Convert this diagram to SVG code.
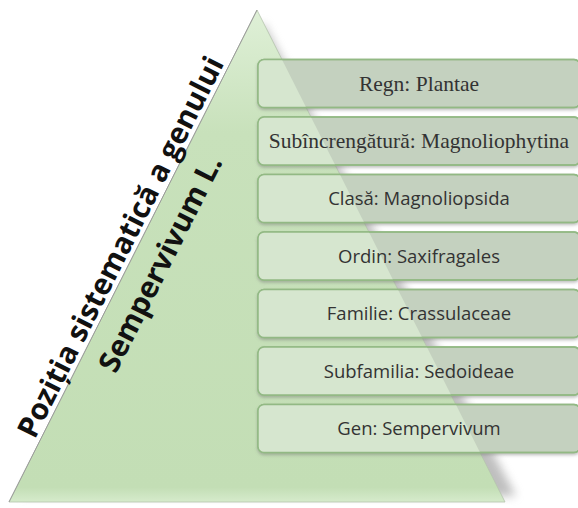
<svg xmlns="http://www.w3.org/2000/svg" width="578" height="508" viewBox="0 0 578 508">
  <defs>
    <style>
      .box { fill: #c4d1bf; stroke: #92b984; stroke-width: 1.5; }
      .boxin { fill: #d6e6cf; stroke: none; }
      .boxedge { fill: none; stroke: #92b984; stroke-width: 1.5; }
      .serif { font-family: "Liberation Serif", "Times New Roman", serif; font-size: 21.5px; fill: #333; text-anchor: middle; }
      .sans { font-family: "Open Sans", "Liberation Sans", sans-serif; font-size: 18.5px; fill: #333; text-anchor: middle; }
      .title { font-family: "Open Sans", "Liberation Sans", sans-serif; font-weight: bold; font-size: 29.5px; fill: #111; text-anchor: middle; }
    </style>
    <linearGradient id="triGrad" x1="0" y1="10" x2="0" y2="502" gradientUnits="userSpaceOnUse">
      <stop offset="0" stop-color="#dff0d7"/>
      <stop offset="0.25" stop-color="#c8e1bb"/>
      <stop offset="0.97" stop-color="#c3deb5"/>
      <stop offset="1" stop-color="#d6ebcc"/>
    </linearGradient>
    <filter id="triShadow" x="-20%" y="-20%" width="140%" height="140%">
      <feGaussianBlur stdDeviation="5"/>
    </filter>
    <filter id="boxShadow" x="-5%" y="-20%" width="110%" height="150%">
      <feDropShadow dx="0" dy="2" stdDeviation="1.5" flood-color="#777" flood-opacity="0.45"/>
    </filter>
    <clipPath id="triClip">
      <polygon points="257,10 9,502 505,502"/>
    </clipPath>
  </defs>

  <rect width="578" height="508" fill="#ffffff"/>

  <g id="pyramid">
    <polygon points="263,22 22,496 516,496" fill="#8a8a8a" opacity="0.55" filter="url(#triShadow)"/>
    <polygon points="257,10 9,502 505,502" fill="url(#triGrad)" stroke="#b5c4ad" stroke-width="0.8"/>
    <line x1="257" y1="10" x2="9" y2="502" stroke="#9a9a9a" stroke-width="1"/>
  </g>

  <g id="title" transform="translate(257,10) rotate(-63.25)">
    <text class="title" x="-273" y="-5" textLength="422" lengthAdjust="spacingAndGlyphs">Poziția sistematică a genului</text>
    <text class="title" x="-270" y="38" textLength="238" lengthAdjust="spacingAndGlyphs">Sempervivum L.</text>
  </g>

  <g id="connectors"/>

  <g id="node-regn">
    <rect class="box" x="258" y="59.5" width="322" height="48" rx="6" filter="url(#boxShadow)"/>
    <rect class="boxin" x="258" y="59.5" width="322" height="48" rx="6" clip-path="url(#triClip)"/>
    <rect class="boxedge" x="258" y="59.5" width="322" height="48" rx="6"/>
    <text class="serif" x="419" y="90.5">Regn: Plantae</text>
  </g>
  <g id="node-subincrengatura">
    <rect class="box" x="258" y="117" width="322" height="48" rx="6" filter="url(#boxShadow)"/>
    <rect class="boxin" x="258" y="117" width="322" height="48" rx="6" clip-path="url(#triClip)"/>
    <rect class="boxedge" x="258" y="117" width="322" height="48" rx="6"/>
    <text class="serif" x="419" y="148">Subîncrengătură: Magnoliophytina</text>
  </g>
  <g id="node-clasa">
    <rect class="box" x="258" y="174.5" width="322" height="48" rx="6" filter="url(#boxShadow)"/>
    <rect class="boxin" x="258" y="174.5" width="322" height="48" rx="6" clip-path="url(#triClip)"/>
    <rect class="boxedge" x="258" y="174.5" width="322" height="48" rx="6"/>
    <text class="sans" x="419" y="205">Clasă: Magnoliopsida</text>
  </g>
  <g id="node-ordin">
    <rect class="box" x="258" y="232" width="322" height="48" rx="6" filter="url(#boxShadow)"/>
    <rect class="boxin" x="258" y="232" width="322" height="48" rx="6" clip-path="url(#triClip)"/>
    <rect class="boxedge" x="258" y="232" width="322" height="48" rx="6"/>
    <text class="sans" x="419" y="262.5">Ordin: Saxifragales</text>
  </g>
  <g id="node-familie">
    <rect class="box" x="258" y="289.5" width="322" height="48" rx="6" filter="url(#boxShadow)"/>
    <rect class="boxin" x="258" y="289.5" width="322" height="48" rx="6" clip-path="url(#triClip)"/>
    <rect class="boxedge" x="258" y="289.5" width="322" height="48" rx="6"/>
    <text class="sans" x="419" y="320">Familie: Crassulaceae</text>
  </g>
  <g id="node-subfamilia">
    <rect class="box" x="258" y="347" width="322" height="48" rx="6" filter="url(#boxShadow)"/>
    <rect class="boxin" x="258" y="347" width="322" height="48" rx="6" clip-path="url(#triClip)"/>
    <rect class="boxedge" x="258" y="347" width="322" height="48" rx="6"/>
    <text class="sans" x="419" y="377.5">Subfamilia: Sedoideae</text>
  </g>
  <g id="node-gen">
    <rect class="box" x="258" y="404.5" width="322" height="48" rx="6" filter="url(#boxShadow)"/>
    <rect class="boxin" x="258" y="404.5" width="322" height="48" rx="6" clip-path="url(#triClip)"/>
    <rect class="boxedge" x="258" y="404.5" width="322" height="48" rx="6"/>
    <text class="sans" x="419" y="435">Gen: Sempervivum</text>
  </g>
</svg>
